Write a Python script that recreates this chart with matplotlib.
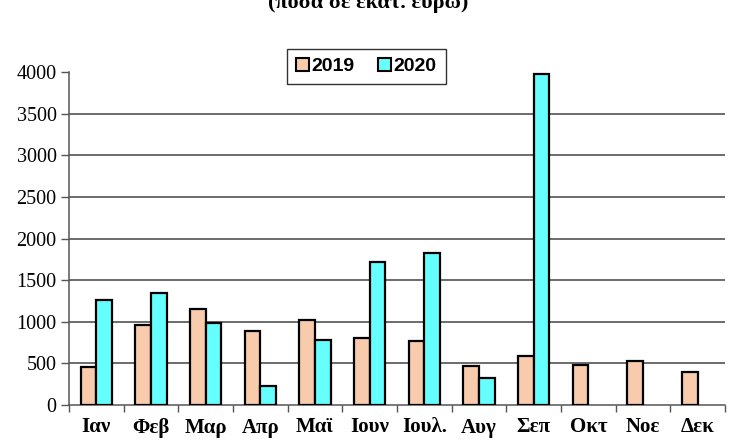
import matplotlib
matplotlib.use("Agg")
import matplotlib.pyplot as plt
import numpy as np

months = ["Ιαν", "Φεβ", "Μαρ", "Απρ", "Μαϊ", "Ιουν", "Ιουλ.", "Αυγ", "Σεπ", "Οκτ", "Νοε", "Δεκ"]
v2019 = [460, 960, 1150, 885, 1020, 810, 770, 465, 590, 485, 530, 395]
v2020 = [1260, 1340, 990, 225, 780, 1715, 1830, 320, 3980, None, None, None]
yticks = [0, 500, 1000, 1500, 2000, 2500, 3000, 3500, 4000]
title = "(ποσά σε εκατ. ευρώ)"

c2019 = "#F8CBAD"
c2020 = "#66FFFF"

fig = plt.figure(figsize=(7.36, 4.41), dpi=100)
ax = fig.add_axes([69/736, 1-405/441, (725-69)/736, (405-72)/441])

x = np.arange(len(months))
w = 0.285
h19 = [v if v is not None else 0 for v in v2019]
ax.bar(x - w/2, h19, width=w, color=c2019, edgecolor="black", linewidth=1.6, zorder=3, label="2019")
idx20 = [i for i, v in enumerate(v2020) if v is not None]
ax.bar(x[idx20] + w/2, [v2020[i] for i in idx20], width=w, color=c2020, edgecolor="black",
       linewidth=1.6, zorder=3, label="2020")

ax.set_xlim(-0.5, len(months) - 0.5)
ax.set_ylim(0, 4000)
ax.set_yticks(yticks)
ax.set_yticklabels([str(t) for t in yticks], family="Liberation Serif", fontsize=14.5)
for t in yticks[1:-1]:
    ax.axhline(t, color="#444444", linewidth=1.1, zorder=1)

ax.set_xticks(x)
ax.set_xticklabels(months, family="Liberation Serif", fontweight="bold", fontsize=15)
ax.tick_params(axis="x", which="major", length=0, pad=9)
ax.set_xticks(np.arange(-0.5, len(months)), minor=True)
ax.tick_params(axis="x", which="minor", length=5, width=1, color="#555555", direction="out")
ax.tick_params(axis="y", length=6, width=1, color="#555555", pad=3)

for s in ["top", "right"]:
    ax.spines[s].set_visible(False)
ax.spines["left"].set_color("#555555")
ax.spines["bottom"].set_color("#555555")
ax.spines["left"].set_linewidth(1.1)
ax.spines["bottom"].set_linewidth(1.1)

leg = ax.legend(loc="center", bbox_to_anchor=((366.5-69)/656, (1-66.5/441 - (1-405/441)) / ((405-72)/441)),
                ncol=2, frameon=True, fancybox=False, edgecolor="black",
                prop={"family": "Liberation Sans", "weight": "bold", "size": 14},
                handlelength=0.65, handleheight=0.65, handletextpad=0.15, columnspacing=1.2,
                borderpad=0.45)
leg.get_frame().set_linewidth(1.0)
for p in leg.get_patches():
    p.set_linewidth(1.5)

fig.text(0.5, 1 - 8/441, title, ha="center", va="baseline", family="Liberation Serif",
         fontweight="bold", fontsize=16)

fig.savefig("out.png", dpi=100)
